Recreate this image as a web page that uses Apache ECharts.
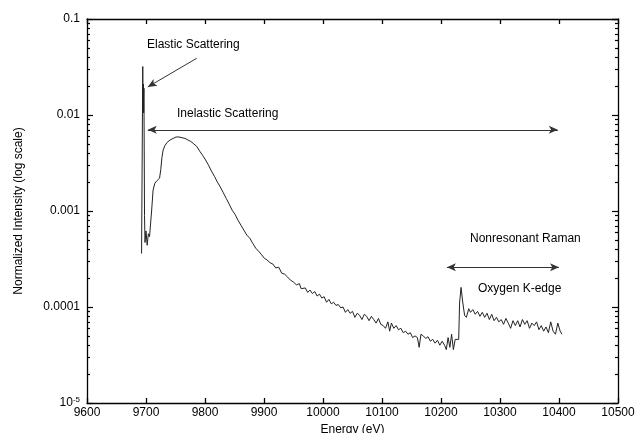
<!DOCTYPE html>
<html>
<head>
<meta charset="utf-8">
<script src="https://cdn.jsdelivr.net/npm/echarts@6/dist/echarts.min.js"></script>
<style>
  html, body { margin: 0; padding: 0; background: #fff; }
  #chart { width: 636px; height: 433px; }
</style>
</head>
<body>
<div id="chart"></div>
<script>
// energy (eV) / normalized intensity
const energy = [
  9692.5, 9694.5, 9695, 9695.5, 9696, 9696.5, 9697.5, 9698.3, 9700, 9702,
  9704, 9706, 9708, 9709.5, 9712, 9715, 9718, 9721, 9723, 9725,
  9727, 9729, 9732, 9736, 9741, 9746, 9751, 9756, 9761, 9766,
  9771, 9776, 9781, 9786, 9791, 9796, 9801, 9806, 9811, 9816,
  9821, 9826, 9831, 9836, 9841, 9846, 9851, 9856, 9861, 9866,
  9871, 9876, 9881, 9886, 9891, 9896, 9901, 9905, 9910, 9915,
  9920, 9925, 9930, 9935, 9940, 9945, 9950, 9955, 9960, 9963,
  9966, 9970, 9974, 9978, 9982, 9986, 9990, 9994, 9998, 10002,
  10006, 10010, 10014, 10018, 10022, 10026, 10030, 10034, 10038, 10042,
  10046, 10050, 10054, 10058, 10062, 10066, 10070, 10074, 10078, 10082,
  10086, 10090, 10094, 10098, 10102, 10106, 10110, 10113, 10116, 10120,
  10124, 10128, 10132, 10136, 10140, 10144, 10148, 10152, 10156, 10160,
  10163, 10166, 10170, 10174, 10178, 10182, 10186, 10190, 10194, 10198,
  10202, 10206, 10209, 10212, 10215, 10218, 10221, 10224, 10227, 10230,
  10231.5, 10234, 10237, 10240, 10243, 10247, 10250, 10254, 10258, 10262,
  10266, 10270, 10274, 10278, 10282, 10286, 10290, 10294, 10298, 10302,
  10306, 10310, 10314, 10318, 10322, 10326, 10330, 10334, 10338, 10342,
  10346, 10350, 10354, 10358, 10362, 10366, 10370, 10374, 10378, 10382,
  10386, 10390, 10394, 10398, 10402, 10405
];
const intensity = [
  0.00036, 0.032, 0.011, 0.021, 0.0105, 0.019, 0.0009, 0.00047, 0.00062, 0.00044,
  0.00058, 0.00054, 0.00056, 0.00100, 0.00165, 0.00195, 0.00205, 0.0021, 0.0022, 0.0027,
  0.0036, 0.0043, 0.0048, 0.0052, 0.0055, 0.0057, 0.0059, 0.0059, 0.0058, 0.0057,
  0.0055, 0.0053, 0.0050, 0.0047, 0.0042, 0.0038, 0.0034, 0.0030, 0.0026, 0.0023,
  0.0020, 0.00178, 0.00155, 0.00135, 0.00118, 0.00102, 0.00092, 0.00080, 0.00071, 0.00063,
  0.00056, 0.00052, 0.00046, 0.00041, 0.00038, 0.00035, 0.00032, 0.00031, 0.00029, 0.00028,
  0.000255, 0.00026, 0.000225, 0.00022, 0.000205, 0.00019, 0.000182, 0.00017, 0.000175, 0.000155,
  0.00016, 0.000158, 0.000142, 0.00015, 0.000138, 0.000145, 0.00013, 0.000136, 0.000124, 0.000128,
  0.000112, 0.00012, 0.000108, 0.000112, 0.000104, 0.000106, 0.000098, 0.0001, 0.000088, 0.000094,
  0.000086, 0.00009, 0.000078, 0.000086, 0.000082, 0.000074, 0.000084, 0.00008, 0.000072, 0.00008,
  0.000074, 0.000068, 0.000076, 0.000066, 0.000064, 0.00006, 0.00007, 0.000056, 0.000068, 0.00006,
  0.000064, 0.000058, 0.00006, 0.000054, 0.000056, 0.000052, 0.000054, 0.000048, 0.00005, 0.000048,
  0.000038, 0.000052, 0.00005, 0.000047, 0.000049, 0.000044, 0.000046, 0.000042, 0.000045, 0.00004,
  0.000044, 0.00004, 0.000036, 0.000048, 0.000038, 0.000052, 0.000036, 0.000046, 0.000044, 0.000046,
  0.00011, 0.00016, 0.00011, 0.000082, 0.000078, 0.000096, 0.000088, 0.000094, 0.000084, 0.00009,
  0.00008, 0.000088, 0.000078, 0.000086, 0.000074, 0.000084, 0.000072, 0.000078, 0.00007, 0.000074,
  0.000066, 0.000076, 0.000068, 0.00006, 0.000072, 0.000064, 0.000072, 0.000062, 0.000074, 0.000066,
  0.000072, 0.00006, 0.000068, 0.000064, 0.00007, 0.000058, 0.000064, 0.000056, 0.000062, 0.000054,
  0.00007, 0.000056, 0.000052, 0.000068, 0.000056, 0.000052
];
const energyTicks = [9600, 9700, 9800, 9900, 10000, 10100, 10200, 10300, 10400, 10500];
// minor log ticks, as exponents (2..9 inside each decade)
const minorExp = [];
[-5, -4, -3, -2].forEach(d => {
  for (let k = 2; k <= 9; k++) minorExp.push(d + Math.log10(k));
});

// annotation arrows [x1, y1, x2, y2]
const elasticArrow = [9786, 0.039, 9703, 0.0196];
const inelasticArrow = [9703, 0.007, 10398, 0.007];
const ramanArrow = [10210, 0.00026, 10400, 0.00026];

const font = 'Liberation Sans, Arial, sans-serif';
const chart = echarts.init(document.getElementById('chart'));

const nameStyle = { color: '#000', fontSize: 12, fontFamily: font };

function yMajor(pos, labels) {
  return {
    type: 'log', logBase: 10, min: 1e-5, max: 0.1, position: pos,
    axisLine: { show: true, lineStyle: { color: '#000', width: 1.3 } },
    splitLine: { show: false },
    axisTick: { show: true, inside: true, length: 6, lineStyle: { color: '#000', width: 1.2 } },
    axisLabel: labels ? {
      show: true, color: '#000', fontSize: 12, fontFamily: font, margin: 7,
      formatter: v => {
        const e = Math.round(Math.log10(v));
        if (e === -5) return '{b|10}{s|-5}';
        return '{b|' + Math.pow(10, e).toFixed(-e) + '}';
      },
      rich: {
        b: { fontSize: 12, fontFamily: font, color: '#000' },
        s: { fontSize: 8, fontFamily: font, color: '#000', padding: [0, 0, 7, 0] }
      }
    } : { show: false },
    name: labels ? 'Normalized Intensity (log scale)' : '',
    nameLocation: 'middle', nameRotate: 90, nameGap: 62,
    nameTextStyle: nameStyle
  };
}

// helper axis in exponent units, only for the short log ticks
function yMinor(pos) {
  return {
    type: 'value', min: -5, max: -1, position: pos,
    axisLine: { show: false },
    splitLine: { show: false },
    axisTick: { show: true, inside: true, length: 3, customValues: minorExp,
      lineStyle: { color: '#000', width: 1.2 } },
    axisLabel: { show: false }
  };
}

function xAxis(pos, labels) {
  return {
    type: 'value', min: 9600, max: 10500, interval: 100, position: pos,
    axisLine: { show: true, lineStyle: { color: '#000', width: 1.3 } },
    splitLine: { show: false },
    axisTick: { show: true, inside: true, length: 5, customValues: energyTicks,
      lineStyle: { color: '#000', width: 1.3 } },
    axisLabel: labels ? { color: '#000', fontSize: 12, fontFamily: font, margin: 4,
      formatter: v => String(v) } : { show: false },
    name: labels ? 'Energy (eV)' : '',
    nameLocation: 'middle', nameGap: 16,
    nameTextStyle: nameStyle
  };
}

function arrow(a, both) {
  return [
    { coord: [a[0], a[1]], symbol: both ? 'arrow' : 'none' },
    { coord: [a[2], a[3]], symbol: 'arrow' }
  ];
}

const textStyle = { fill: '#000', fontSize: 12, fontFamily: font };

chart.setOption({
  animation: false,
  backgroundColor: '#fff',
  grid: { left: 87, right: 18, top: 19, bottom: 30, outerBoundsMode: 'none' },
  xAxis: [xAxis('bottom', true), xAxis('top', false)],
  yAxis: [yMajor('left', true), yMinor('left'), yMajor('right', false), yMinor('right')],
  series: [{
    type: 'line',
    data: energy.map((e, i) => [e, intensity[i]]),
    showSymbol: false,
    lineStyle: { color: '#222', width: 1 },
    markLine: {
      silent: true,
      symbolSize: [6, 9],
      label: { show: false },
      lineStyle: { color: '#333', width: 1, type: 'solid' },
      data: [arrow(elasticArrow, false), arrow(inelasticArrow, true), arrow(ramanArrow, true)]
    }
  }],
  graphic: [
    { type: 'text', left: 147, top: 39, style: { text: 'Elastic Scattering', ...textStyle } },
    { type: 'text', left: 177, top: 108, style: { text: 'Inelastic Scattering', ...textStyle } },
    { type: 'text', left: 470, top: 233, style: { text: 'Nonresonant Raman', ...textStyle } },
    { type: 'text', left: 478, top: 283, style: { text: 'Oxygen K-edge', ...textStyle } }
  ]
});
</script>
</body>
</html>
